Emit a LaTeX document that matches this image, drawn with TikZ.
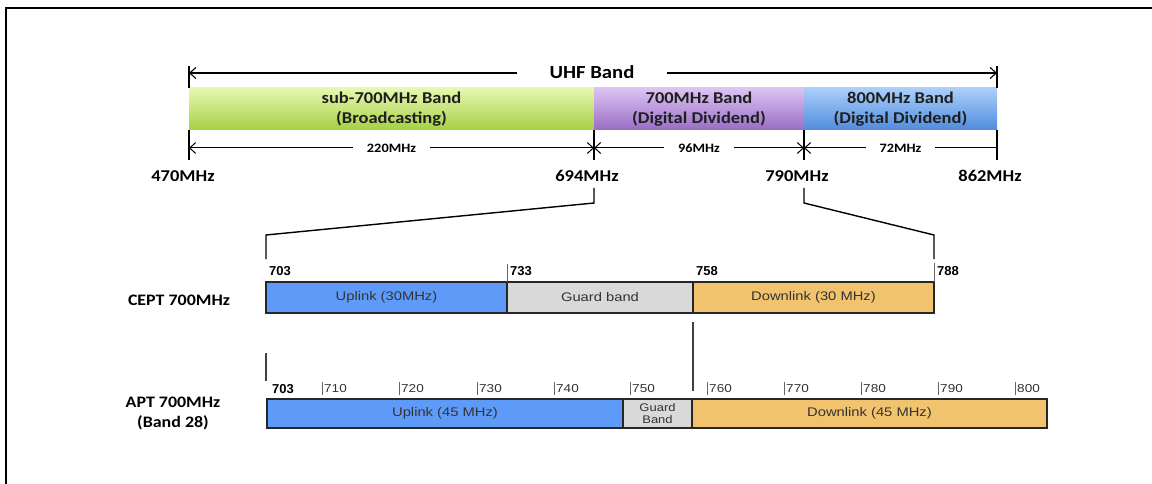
\documentclass[tikz,border=0pt]{standalone}
\usepackage{fontspec}
\setmainfont{Carlito}
\newfontfamily\calfont[FakeStretch=1.12]{Carlito}
\newfontfamily\arfont[FakeStretch=1.18]{Liberation Sans}
\newfontfamily\arnfont{Liberation Sans}
\usetikzlibrary{arrows.meta}
\definecolor{gtop}{HTML}{E6F8B0}
\definecolor{gbot}{HTML}{A6CF45}
\definecolor{ptop}{HTML}{DCC4F2}
\definecolor{pbot}{HTML}{9A6CC6}
\definecolor{btop}{HTML}{ABCFFA}
\definecolor{bbot}{HTML}{4F8CDD}
\definecolor{upblue}{HTML}{5E9BF8}
\definecolor{guardg}{HTML}{D9D9D9}
\definecolor{dlorange}{HTML}{F1C36E}
\begin{document}
\begin{tikzpicture}[x=1pt,y=-1pt,
  band/.style={anchor=north west, inner sep=0pt, outer sep=0pt, minimum height=42pt, align=center, text=black!88, font=\calfont\bfseries\fontsize{16.5}{20}\selectfont},
  bar/.style={anchor=north west, inner sep=0pt, outer sep=0pt, draw=black!85, line width=1.3pt, minimum height=31pt, align=center, text=black!80, font=\arfont\fontsize{12.5}{14}\selectfont},
  arr/.style={line width=1.1pt, -{Straight Barb[length=6pt,width=11pt]}},
  dimboth/.style={line width=1pt, {Straight Barb[length=6pt,width=11pt]}-{Straight Barb[length=6pt,width=11pt]}},
  dimleft/.style={line width=1pt, {Straight Barb[length=6pt,width=11pt]}-},
  dimlbl/.style={fill=white, inner xsep=14pt, inner ysep=1pt, font=\calfont\bfseries\fontsize{12.8}{15}\selectfont},
  freq/.style={font=\calfont\bfseries\fontsize{16.5}{18}\selectfont},
  rowlbl/.style={align=center, font=\calfont\bfseries\fontsize{16}{20}\selectfont},
  tickl/.style={line width=1.1pt},
  num/.style={anchor=west, inner sep=1pt, font=\arnfont\bfseries\fontsize{13}{15}\selectfont},
  anum/.style={anchor=west, inner sep=1pt, text=black!80, font=\arfont\fontsize{11.5}{13}\selectfont},
  gtick/.style={line width=0.9pt, black!60},
  zline/.style={line width=1.4pt},
  sep/.style={line width=1.6pt, black!75}
]
\useasboundingbox (0,0) rectangle (1152,484);
\draw[line width=2pt] (6,484) -- (6,8) -- (1152,8);

% top bands
\node[band, minimum width=405pt, top color=gtop, bottom color=gbot] (sub) at (189,88) {sub-700MHz Band\\(Broadcasting)};
\node[band, minimum width=210pt, top color=ptop, bottom color=pbot] (b700) at (sub.north east) {700MHz Band\\(Digital Dividend)};
\node[band, minimum width=193pt, top color=btop, bottom color=bbot] (b800) at (b700.north east) {800MHz Band\\(Digital Dividend)};

% UHF arrow
\node[font=\calfont\bfseries\fontsize{18.5}{20}\selectfont, inner xsep=32pt] (uhf) at (592,72) {UHF Band};
\coordinate (uL) at (189,73);
\coordinate (uR) at (997,73);
\draw[arr] (uhf.west |- uL) -- (uL);
\draw[arr] (uhf.east |- uR) -- (uR);
\coordinate (uLt) at (189,66);
\coordinate (uRt) at (997,66);
\draw[tickl] (sub.north west) -- (uLt);
\draw[tickl] (b800.north east) -- (uRt);

% dimension ticks
\coordinate (t1) at (189,160);
\coordinate (t2) at (594,160);
\coordinate (t3) at (804,160);
\coordinate (t4) at (997,160);
\draw[tickl] (sub.south west) -- (t1);
\draw[tickl] (sub.south east) -- (t2);
\draw[tickl] (b700.south east) -- (t3);
\draw[tickl] (b800.south east) -- (t4);
\coordinate (d1) at (189,148);
\coordinate (d2) at (594,148);
\coordinate (d3) at (804,148);
\coordinate (d4) at (997,148);
\draw[dimboth] (d1) -- node[dimlbl] {220MHz} (d2);
\draw[dimboth] (d2) -- node[dimlbl] {96MHz} (d3);
\draw[dimleft] (d3) -- node[dimlbl] {72MHz} (d4);

\node[freq] (f470) at (183,176) {470MHz};
\node[freq] (f694) at (587,176) {694MHz};
\node[freq] (f790) at (797,176) {790MHz};
\node[freq] (f862) at (990,176) {862MHz};

% zoom lines
\coordinate (zl0) at (594,188);
\coordinate (zl1) at (594,203);
\coordinate (zl2) at (266,235);
\coordinate (zl3) at (266,259);
\coordinate (zr0) at (804,188);
\coordinate (zr1) at (804,203);
\coordinate (zr2) at (934,235);
\coordinate (zr3) at (934,259);
\draw[zline] (zl0) -- (zl1) -- (zl2) -- (zl3);
\draw[zline] (zr0) -- (zr1) -- (zr2) -- (zr3);

% CEPT row
\node[rowlbl] (cept) at (179,300) {CEPT 700MHz};
\node[bar, minimum width=241pt, fill=upblue] (cu) at (266,282) {Uplink (30MHz)};
\node[bar, minimum width=186pt, fill=guardg] (cg) at (cu.north east) {Guard band};
\node[bar, minimum width=241pt, fill=dlorange] (cd) at (cg.north east) {Downlink (30 MHz)};
\node[num] (n703) at (268,271) {703};
\node[num] (n733) at (509,271) {733};
\node[num] (n758) at (695,271) {758};
\node[num] (n788) at (936,271) {788};
\coordinate (c733) at (507,264);
\coordinate (c788) at (934,263);
\draw[gtick] (cu.north east) -- (c733);
\draw[gtick] (cd.north east) -- (c788);

% separators
\coordinate (g1) at (693,322);
\coordinate (g2) at (693,391);
\draw[sep] (g1) -- (g2);
\coordinate (s1) at (266,353);
\coordinate (s2) at (266,381);
\draw[sep] (s1) -- (s2);

% APT row
\node[rowlbl] (apt) at (173,413) {APT 700MHz\\(Band 28)};
\node[bar, minimum height=29pt, minimum width=356pt, fill=upblue] (au) at (267,399) {Uplink (45 MHz)};
\node[bar, minimum height=29pt, minimum width=69pt, fill=guardg, font=\arfont\fontsize{11}{12}\selectfont] (ag) at (au.north east) {Guard\\Band};
\node[bar, minimum height=29pt, minimum width=355pt, fill=dlorange] (ad) at (ag.north east) {Downlink (45 MHz)};
\node[num] (a703) at (271,389) {703};
\foreach \x/\f in {322/710,399/720,477/730,554/740,630/750,707/760,784/770,861/780,938/790,1015/800}{
  \coordinate (k\f a) at (\x,382);
  \coordinate (k\f b) at (\x,395);
  \draw[gtick] (k\f a) -- (k\f b);
  \node[anum] (l\f) at (\x+1,389) {\f};
}
\end{tikzpicture}
\end{document}
